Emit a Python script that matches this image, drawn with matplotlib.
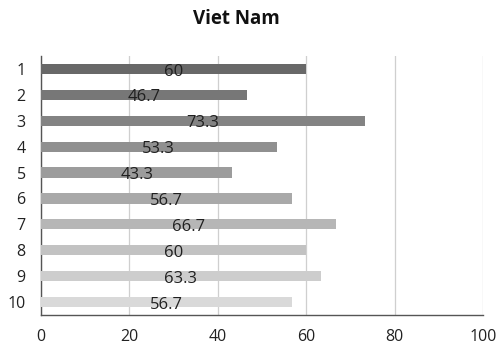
import numpy as np
import matplotlib.pyplot as plt

# survey scores per item
items = ["1", "2", "3", "4", "5", "6", "7", "8", "9", "10"]
scores = [60, 46.7, 73.3, 53.3, 43.3, 56.7, 66.7, 60, 63.3, 56.7]
bar_colors = ["#686868", "#777777", "#838383", "#909090", "#9c9c9c",
              "#a9a9a9", "#b6b6b6", "#c2c2c2", "#cdcdcd", "#d9d9d9"]

plt.rcParams['font.family'] = ['Open Sans', 'DejaVu Sans']

fig = plt.figure(figsize=(4.98, 3.51), dpi=100)
ax = fig.add_axes([41 / 498, 1 - 315 / 351, 442 / 498, 259 / 351])

y = np.arange(len(items))
ax.barh(y, scores, height=0.39, color=bar_colors, zorder=3)

for i in range(len(items)):
    ax.text(scores[i] / 2, y[i] + 0.1, f"{scores[i]:g}", ha='center', va='center',
            fontsize=12, color='#202020', zorder=4)

ax.set_ylim(len(items) - 0.5, -0.5)
ax.set_xlim(0, 100)
ax.set_xticks([0, 20, 40, 60, 80, 100])
ax.set_yticks(y)
ax.set_yticklabels(items)

ax.grid(axis='x', color='#cfcfcf', linewidth=0.9, zorder=0)
ax.grid(axis='y', visible=False)
for side in ['top', 'right']:
    ax.spines[side].set_visible(False)
for side in ['left', 'bottom']:
    ax.spines[side].set_color('#555555')
    ax.spines[side].set_linewidth(1.0)
ax.tick_params(axis='both', length=0, labelsize=11.5, colors='#222222')
ax.tick_params(axis='x', pad=10)
ax.tick_params(axis='y', pad=11)

fig.text(0.475, 1 - 19 / 351, "Viet Nam", ha='center', va='center',
         fontsize=13.5, fontweight='bold', color='#111111')

plt.savefig('out.png', dpi=100)
